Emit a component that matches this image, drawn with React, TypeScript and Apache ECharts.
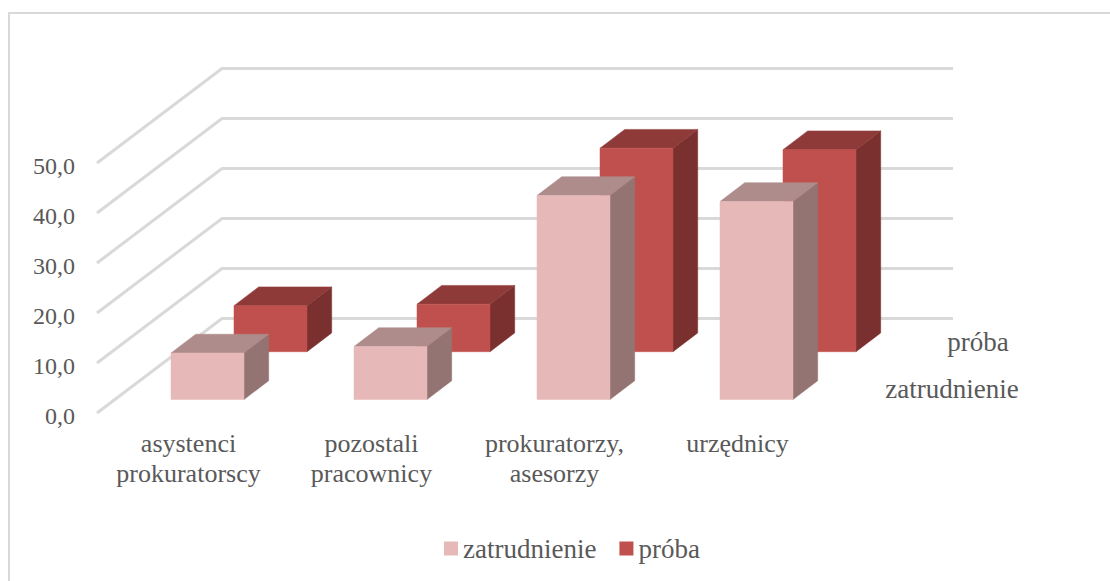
import React, { useEffect, useRef } from "react";
import * as echarts from "echarts";

const categories = ["asystenci\nprokuratorscy", "pozostali\npracownicy", "prokuratorzy,\nasesorzy", "urzędnicy"];
const zatrudnienie = [9.3, 10.6, 40.8, 39.6];
const proba = [9.2, 9.5, 40.7, 40.4];
const yTicks = [0, 10, 20, 30, 40, 50];
const seriesNames = ["zatrudnienie", "próba"];

const FONT = "'Liberation Serif', serif";
const TEXT = "#595959";
const FS = 26;
const FS_SERIES = 27;
const WALL_DX = 125;
const WALL_DY = -94.5;
const BAR_W = 73;
const BAR_DX = 24.7;
const BAR_DY = -18.8;

function poly(points: number[][], fill: string) {
  return {
    type: "polygon",
    shape: { points },
    style: { fill, stroke: fill, lineWidth: 0.5 },
  };
}

function barRenderer(offX: number, offY: number, front: string, top: string, side: string) {
  return (_params: any, api: any) => {
    const base = api.coord([api.value(0), 0]);
    const head = api.coord([api.value(0), api.value(1)]);
    const x0 = base[0] + offX - BAR_W / 2;
    const x1 = x0 + BAR_W;
    const yb = base[1] + offY;
    const yt = head[1] + offY;
    return {
      type: "group",
      children: [
        poly([[x1, yt], [x1 + BAR_DX, yt + BAR_DY], [x1 + BAR_DX, yb + BAR_DY], [x1, yb]], side),
        poly([[x0, yt], [x0 + BAR_DX, yt + BAR_DY], [x1 + BAR_DX, yt + BAR_DY], [x1, yt]], top),
        poly([[x0, yt], [x1, yt], [x1, yb], [x0, yb]], front),
      ],
    };
  };
}

function wallRenderer(params: any, api: any) {
  const cs = params.coordSys;
  const y = api.coord([0, api.value(0)])[1];
  const xFront = cs.x;
  const xBack = cs.x + WALL_DX;
  const xEnd = cs.x + cs.width + WALL_DX - 1;
  return {
    type: "polyline",
    shape: { points: [[xFront, y], [xBack, y + WALL_DY], [xEnd, y + WALL_DY]] },
    style: { fill: "none", stroke: "#D9D9D9", lineWidth: 3 },
  };
}

export default function App() {
  const ref = useRef<HTMLDivElement>(null);
  useEffect(() => {
    const chart = echarts.init(ref.current!, undefined, { renderer: "svg" });
    chart.setOption({
      animation: false,
      backgroundColor: "#ffffff",
      textStyle: { fontFamily: FONT },
      grid: { left: 97, top: 163, width: 732, height: 250, containLabel: false },
      xAxis: {
        type: "category",
        data: categories,
        axisLine: { show: false },
        axisTick: { show: false },
        axisLabel: {
          interval: 0,
          margin: 15,
          fontFamily: FONT,
          fontSize: FS,
          lineHeight: 30,
          color: TEXT,
        },
      },
      yAxis: {
        type: "value",
        min: 0,
        max: 50,
        interval: 10,
        axisLine: { show: false },
        axisTick: { show: false },
        splitLine: { show: false },
        axisLabel: {
          margin: 22,
          fontFamily: FONT,
          fontSize: 24,
          color: TEXT,
          verticalAlign: "top",
          lineHeight: 6,
          formatter: (v: number) => v.toFixed(1).replace(".", ","),
        },
      },
      legend: {
        data: seriesNames,
        left: 439,
        top: 530,
        itemWidth: 14,
        itemHeight: 14,
        itemGap: 23,
        icon: "rect",
        textStyle: { fontFamily: FONT, fontSize: FS_SERIES, color: TEXT },
      },
      graphic: [
        {
          type: "polyline",
          silent: true,
          shape: { points: [[9, 581], [9, 13], [1110, 13]] },
          style: { fill: "none", stroke: "#D9D9D9", lineWidth: 2 },
        },
        {
          type: "text",
          x: 978,
          y: 342,
          style: { text: seriesNames[1], fontFamily: FONT, fontSize: FS_SERIES, fill: TEXT, align: "center", verticalAlign: "middle" },
        },
        {
          type: "text",
          x: 952,
          y: 389,
          style: { text: seriesNames[0], fontFamily: FONT, fontSize: FS_SERIES, fill: TEXT, align: "center", verticalAlign: "middle" },
        },
      ],
      series: [
        {
          type: "custom",
          name: "walls",
          silent: true,
          renderItem: wallRenderer,
          encode: { y: 0 },
          data: yTicks.map((t) => [t]),
          z: 1,
        },
        {
          type: "custom",
          name: seriesNames[1],
          renderItem: barRenderer(82, -61.3, "#C0504D", "#8E3A38", "#7A302F"),
          encode: { x: 0, y: 1 },
          itemStyle: { color: "#C0504D" },
          data: proba.map((v, i) => [i, v]),
          z: 2,
        },
        {
          type: "custom",
          name: seriesNames[0],
          renderItem: barRenderer(19, -13.5, "#E6B9B8", "#AE8C8B", "#937473"),
          encode: { x: 0, y: 1 },
          itemStyle: { color: "#E6B9B8" },
          data: zatrudnienie.map((v, i) => [i, v]),
          z: 3,
        },
      ],
    });
    return () => chart.dispose();
  }, []);
  return <div ref={ref} style={{ position: "fixed", left: 0, top: 0, width: 1110, height: 581 }} />;
}
